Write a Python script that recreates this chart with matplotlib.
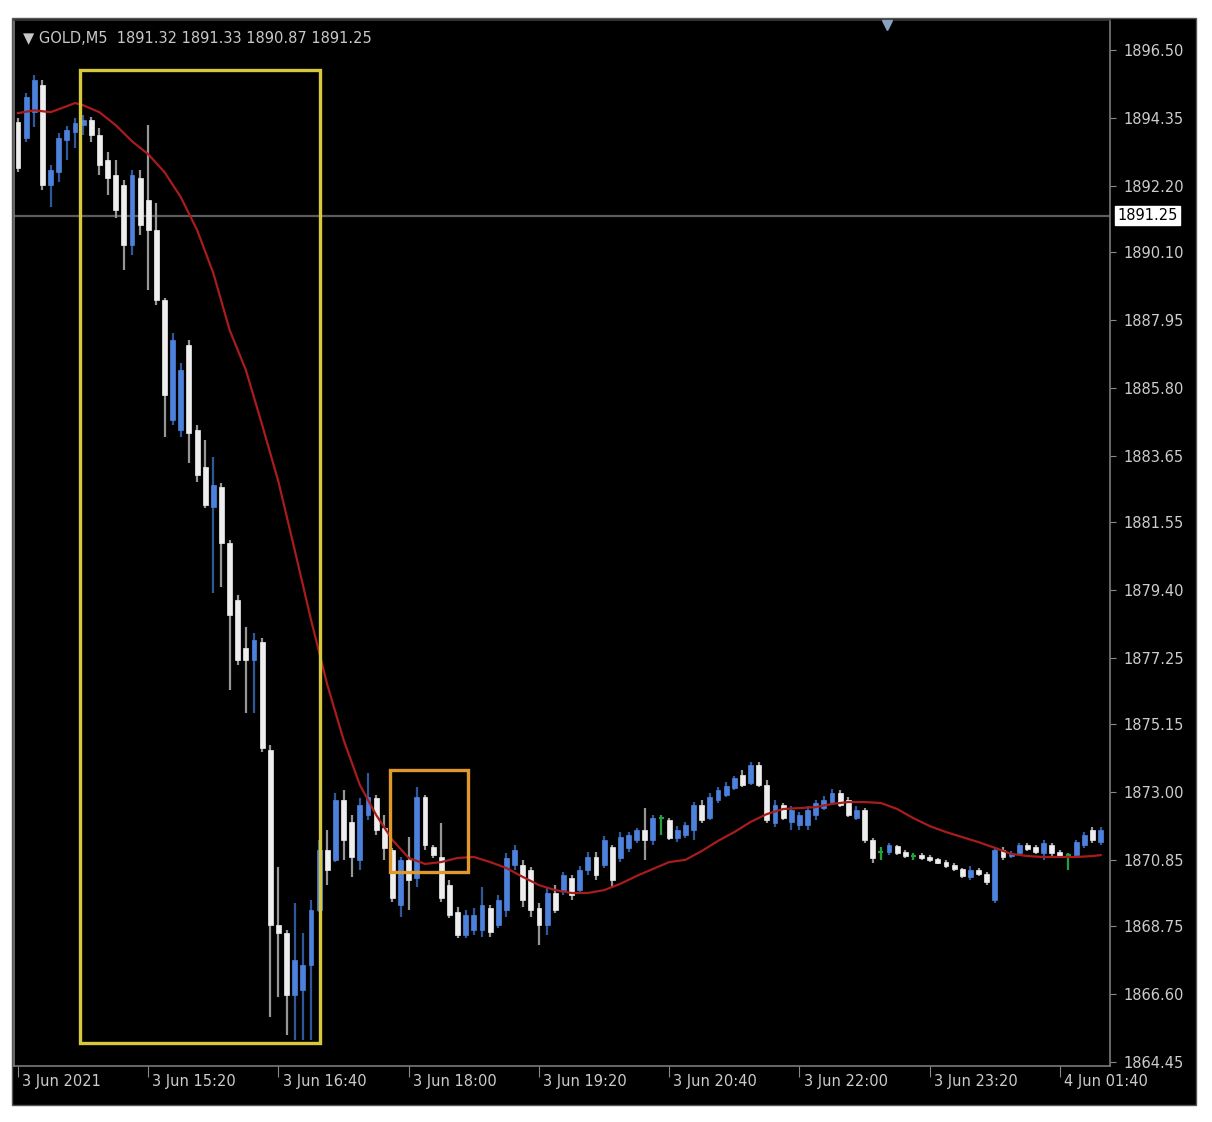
import numpy as np
import matplotlib
matplotlib.use("Agg")
import matplotlib.pyplot as plt
import matplotlib.transforms as mtransforms
from matplotlib.patches import Rectangle

# GOLD M5 candles, bar 0 = 3 Jun 14:00 (one bar every 5 minutes, market break 00:00-01:00)
opens = [1894.21, 1893.71, 1894.53, 1895.39, 1892.22, 1892.63, 1893.64, 1893.90, 1894.12, 1894.28,
         1893.80, 1893.01, 1892.53, 1892.22, 1890.32, 1892.44, 1891.75, 1890.80, 1888.58, 1884.78,
         1884.46, 1887.16, 1884.46, 1883.29, 1882.03, 1882.66, 1880.89, 1879.08, 1877.56, 1877.18,
         1877.75, 1874.33, 1868.79, 1868.53, 1866.57, 1866.73, 1867.52, 1869.26, 1871.16, 1870.85,
         1872.74, 1872.04, 1870.85, 1872.27, 1872.80, 1871.86, 1871.16, 1869.42, 1870.85, 1870.28,
         1872.84, 1871.26, 1870.94, 1870.05, 1869.20, 1868.47, 1868.63, 1868.63, 1869.33, 1868.79,
         1869.26, 1870.69, 1870.69, 1870.53, 1869.33, 1868.79, 1869.80, 1869.90, 1870.28, 1869.90,
         1870.53, 1870.94, 1870.69, 1871.26, 1870.91, 1871.23, 1871.48, 1871.79, 1871.48, 1872.17,
         1872.11, 1871.54, 1871.64, 1871.79, 1872.58, 1872.17, 1872.74, 1872.90, 1873.12, 1873.54,
         1873.28, 1873.85, 1873.22, 1872.02, 1872.58, 1872.04, 1871.95, 1871.95, 1872.27, 1872.49,
         1872.68, 1872.96, 1872.74, 1872.17, 1872.42, 1871.48, 1871.10, 1871.10, 1871.29, 1871.10,
         1870.97, 1871.00, 1870.94, 1870.88, 1870.78, 1870.69, 1870.56, 1870.31, 1870.53, 1870.40,
         1869.58, 1871.16, 1870.97, 1871.07, 1871.32, 1871.26, 1871.07, 1871.32, 1871.10, 1871.00,
         1871.00, 1871.32, 1871.79, 1871.42]
highs = [1894.34, 1895.13, 1895.70, 1895.55, 1892.85, 1893.86, 1894.09, 1894.34, 1894.43, 1894.37,
         1894.02, 1893.26, 1893.01, 1892.38, 1892.69, 1892.69, 1894.12, 1891.65, 1888.64, 1887.53,
         1886.58, 1887.31, 1884.62, 1884.14, 1883.60, 1882.79, 1880.98, 1879.24, 1878.22, 1878.03,
         1877.88, 1874.49, 1870.62, 1868.63, 1869.48, 1868.53, 1869.58, 1871.48, 1871.79, 1872.96,
         1873.06, 1872.27, 1872.80, 1873.60, 1872.90, 1872.27, 1871.23, 1870.94, 1871.57, 1873.16,
         1872.90, 1871.32, 1872.02, 1870.21, 1869.36, 1869.26, 1869.33, 1869.99, 1869.42, 1869.74,
         1871.07, 1871.32, 1870.85, 1870.62, 1869.48, 1869.96, 1870.05, 1870.47, 1870.37, 1870.66,
         1871.10, 1871.10, 1871.60, 1871.32, 1871.73, 1871.73, 1871.86, 1872.49, 1872.27, 1872.27,
         1872.17, 1871.92, 1872.04, 1872.68, 1872.74, 1872.96, 1873.16, 1873.31, 1873.50, 1873.69,
         1873.95, 1873.95, 1873.38, 1872.74, 1872.65, 1872.55, 1872.36, 1872.55, 1872.74, 1872.87,
         1873.09, 1873.06, 1872.84, 1872.55, 1872.49, 1871.54, 1871.26, 1871.38, 1871.32, 1871.16,
         1871.07, 1871.07, 1871.00, 1870.91, 1870.85, 1870.75, 1870.59, 1870.66, 1870.59, 1870.47,
         1871.26, 1871.26, 1871.13, 1871.38, 1871.38, 1871.32, 1871.48, 1871.38, 1871.16, 1871.07,
         1871.48, 1871.73, 1871.89, 1871.89]
lows = [1892.63, 1893.58, 1894.06, 1892.06, 1891.53, 1892.31, 1893.01, 1893.39, 1893.80, 1893.58,
        1892.53, 1891.90, 1891.18, 1889.53, 1890.00, 1890.64, 1888.90, 1888.42, 1884.24, 1884.62,
        1884.24, 1883.42, 1882.82, 1881.99, 1879.30, 1879.49, 1876.23, 1877.02, 1875.50, 1875.50,
        1874.26, 1865.87, 1866.51, 1865.30, 1865.14, 1865.14, 1865.14, 1869.20, 1870.05, 1870.78,
        1870.85, 1870.31, 1870.53, 1872.11, 1871.63, 1870.85, 1869.52, 1869.04, 1869.26, 1869.99,
        1871.16, 1870.91, 1869.52, 1869.01, 1868.37, 1868.37, 1868.47, 1868.41, 1868.41, 1868.69,
        1869.04, 1870.53, 1869.36, 1869.04, 1868.15, 1868.47, 1869.17, 1869.74, 1869.58, 1869.80,
        1870.37, 1870.21, 1870.59, 1869.99, 1870.78, 1871.10, 1871.39, 1870.85, 1871.32, 1871.64,
        1871.48, 1871.42, 1871.54, 1871.48, 1872.02, 1872.11, 1872.65, 1872.84, 1873.06, 1873.16,
        1873.22, 1873.16, 1872.02, 1871.89, 1872.11, 1871.79, 1871.79, 1871.79, 1872.11, 1872.42,
        1872.62, 1872.52, 1872.20, 1872.11, 1871.38, 1870.75, 1870.85, 1871.00, 1871.00, 1870.91,
        1870.85, 1870.85, 1870.78, 1870.72, 1870.59, 1870.50, 1870.28, 1870.21, 1870.34, 1870.05,
        1869.48, 1870.85, 1870.91, 1871.00, 1871.13, 1871.04, 1870.85, 1870.97, 1870.91, 1870.53,
        1870.91, 1871.23, 1871.38, 1871.32]
closes = [1892.76, 1895.00, 1895.55, 1892.22, 1892.69, 1893.71, 1893.96, 1894.18, 1894.28, 1893.80,
          1892.85, 1892.44, 1891.43, 1890.32, 1892.53, 1890.96, 1890.80, 1888.58, 1885.57, 1887.31,
          1886.36, 1884.37, 1883.04, 1882.09, 1882.72, 1880.89, 1878.60, 1877.18, 1877.18, 1877.81,
          1874.39, 1868.79, 1868.53, 1866.57, 1867.68, 1867.52, 1869.26, 1871.16, 1870.53, 1872.74,
          1871.48, 1870.94, 1872.58, 1872.84, 1871.79, 1871.23, 1869.64, 1870.85, 1870.21, 1872.84,
          1871.32, 1871.00, 1869.64, 1869.10, 1868.47, 1869.10, 1869.10, 1869.42, 1868.56, 1869.58,
          1870.91, 1871.16, 1869.58, 1869.26, 1868.79, 1869.80, 1869.26, 1870.37, 1869.74, 1870.53,
          1870.94, 1870.37, 1871.48, 1870.21, 1871.57, 1871.64, 1871.79, 1871.48, 1872.17, 1872.17,
          1871.54, 1871.79, 1871.95, 1872.58, 1872.11, 1872.84, 1873.06, 1873.19, 1873.44, 1873.22,
          1873.85, 1873.22, 1872.11, 1872.58, 1872.17, 1872.42, 1872.27, 1872.42, 1872.65, 1872.74,
          1872.96, 1872.58, 1872.27, 1872.42, 1871.48, 1870.91, 1871.10, 1871.32, 1871.07, 1870.97,
          1870.97, 1870.91, 1870.85, 1870.75, 1870.66, 1870.56, 1870.34, 1870.53, 1870.40, 1870.15,
          1871.16, 1870.94, 1871.04, 1871.32, 1871.19, 1871.10, 1871.38, 1871.07, 1870.97, 1871.00,
          1871.42, 1871.64, 1871.48, 1871.79]

# moving average (red line)
ma_bars = [0, 2, 4, 6, 7, 8, 10, 12, 14, 16, 18, 20, 22, 24, 26, 28, 30, 32, 34, 36, 38, 40, 42, 44,
           46, 48, 50, 52, 54, 56, 58, 60, 62, 64, 66, 68, 70, 72, 74, 76, 78, 80, 82, 84, 86, 88,
           90, 92, 94, 96, 98, 100, 102, 104, 106, 108, 110, 112, 114, 116, 118, 120, 122, 124,
           126, 128, 130, 132, 133]
ma_vals = [1894.50, 1894.59, 1894.53, 1894.72, 1894.82, 1894.75, 1894.53, 1894.12, 1893.61, 1893.20,
           1892.63, 1891.84, 1890.80, 1889.43, 1887.63, 1886.36, 1884.62, 1882.82, 1880.66, 1878.45,
           1876.39, 1874.65, 1873.22, 1872.27, 1871.48, 1870.91, 1870.72, 1870.78, 1870.91, 1870.94,
           1870.78, 1870.59, 1870.31, 1870.05, 1869.89, 1869.80, 1869.80, 1869.89, 1870.09, 1870.34,
           1870.56, 1870.78, 1870.85, 1871.13, 1871.45, 1871.73, 1872.05, 1872.30, 1872.46, 1872.49,
           1872.52, 1872.62, 1872.68, 1872.68, 1872.65, 1872.46, 1872.17, 1871.92, 1871.73, 1871.57,
           1871.41, 1871.23, 1871.04, 1870.97, 1870.94, 1870.94, 1870.94, 1870.97, 1871.00]

time_ticks = [0, 16, 32, 48, 64, 80, 96, 112, 128]
time_labels = ["3 Jun 2021", "3 Jun 15:20", "3 Jun 16:40", "3 Jun 18:00", "3 Jun 19:20",
               "3 Jun 20:40", "3 Jun 22:00", "3 Jun 23:20", "4 Jun 01:40"]
price_ticks = [1896.50, 1894.35, 1892.20, 1890.10, 1887.95, 1885.80, 1883.65, 1881.55, 1879.40,
               1877.25, 1875.15, 1873.00, 1870.85, 1868.75, 1866.60, 1864.45]

last_price = 1891.25
header = "GOLD,M5  1891.32 1891.33 1890.87 1891.25"

# highlighted regions: (first bar, last bar, low, high)
big_box = (7.6, 37.1, 1865.05, 1895.86)
small_box = (45.7, 55.3, 1870.47, 1873.70)

o = np.array(opens)
h = np.array(highs)
l = np.array(lows)
c = np.array(closes)
x = np.arange(len(o))

bull_col = "#4d82dc"
bull_wick = "#30579a"
bear_col = "#eeeeee"
bear_wick = "#969696"
doji_col = "#22a040"

fig = plt.figure(figsize=(12.12, 11.22), dpi=100, facecolor="white")
# black terminal background behind axes and labels
fig.patches.append(Rectangle((12 / 1212, 1 - 1105 / 1122), (1196 - 12) / 1212, (1105 - 18) / 1122,
                             transform=fig.transFigure, facecolor="black", edgecolor="#555555",
                             lw=1.0, zorder=-10))
ax = fig.add_axes([14 / 1212, 1 - 1066 / 1122, (1110 - 14) / 1212, (1066 - 20) / 1122])
ax.set_zorder(5)
ax.set_facecolor("black")

up = c > o
down = c < o
flat = c == o

# wicks
ax.vlines(x[up], l[up], h[up], color=bull_wick, lw=1.6, zorder=2)
ax.vlines(x[down], l[down], h[down], color=bear_wick, lw=1.6, zorder=2)
ax.vlines(x[flat], l[flat], h[flat], color=doji_col, lw=1.6, zorder=2)

# bodies
w = 0.6
ax.bar(x[up], c[up] - o[up], bottom=o[up], width=w, color=bull_col, edgecolor=bull_col, lw=0.5, zorder=3)
ax.bar(x[down], o[down] - c[down], bottom=c[down], width=w, color=bear_col, edgecolor=bear_col, lw=0.5, zorder=3)
ax.hlines(o[flat], x[flat] - w / 2, x[flat] + w / 2, color=doji_col, lw=1.6, zorder=3)

# moving average
ax.plot(ma_bars, ma_vals, color="#a81c1c", lw=1.6, zorder=4)

# bid line
ax.axhline(last_price, color="#5c5c5c", lw=1.6, zorder=1)

# annotation boxes
ax.add_patch(Rectangle((big_box[0], big_box[2]), big_box[1] - big_box[0], big_box[3] - big_box[2],
                       fill=False, edgecolor="#d8c83c", lw=2.4, zorder=5))
ax.add_patch(Rectangle((small_box[0], small_box[2]), small_box[1] - small_box[0], small_box[3] - small_box[2],
                       fill=False, edgecolor="#e0982c", lw=2.4, zorder=5))

ax.set_xlim(-0.49, 134.15)
ax.set_ylim(1864.32, 1897.45)

for s in ax.spines.values():
    s.set_color("#7a7a7a")
    s.set_linewidth(1.2)
ax.spines["top"].set_color("#3a3a3a")

ax.yaxis.tick_right()
ax.set_yticks(price_ticks)
ax.set_yticklabels([f"{p:.2f}" for p in price_ticks])
ax.tick_params(axis="y", direction="out", length=4, color="#8a8a8a", labelcolor="#cccccc",
               labelsize=10.5, pad=6)

ax.set_xticks(time_ticks)
ax.set_xticklabels(time_labels)
ax.tick_params(axis="x", direction="out", length=8, color="#8a8a8a", labelcolor="#cccccc",
               labelsize=10.5, pad=-2)
shift = mtransforms.ScaledTranslation(3 / 72, 0, fig.dpi_scale_trans)
for lbl in ax.get_xticklabels():
    lbl.set_horizontalalignment("left")
    lbl.set_transform(lbl.get_transform() + shift)

# last price tag on the price scale
ax.annotate(f"{last_price:.2f}", xy=(1.0, last_price), xycoords=("axes fraction", "data"),
            xytext=(5, 0), textcoords="offset points", ha="left", va="center",
            fontsize=10.5, color="black", annotation_clip=False,
            bbox=dict(boxstyle="square,pad=0.15", facecolor="white", edgecolor="white"))

# header
ax.text(0.008, 0.982, "\u25bc " + header, transform=ax.transAxes, ha="left", va="center",
        fontsize=10.5, color="#c8c8c8")

# chart shift marker at the top
ax.plot([106.8], [0.995], marker="v", markersize=7, color="#8aa2c0", clip_on=False,
        transform=mtransforms.blended_transform_factory(ax.transData, ax.transAxes), zorder=6)

fig.savefig("out.png", dpi=100, facecolor="white")
